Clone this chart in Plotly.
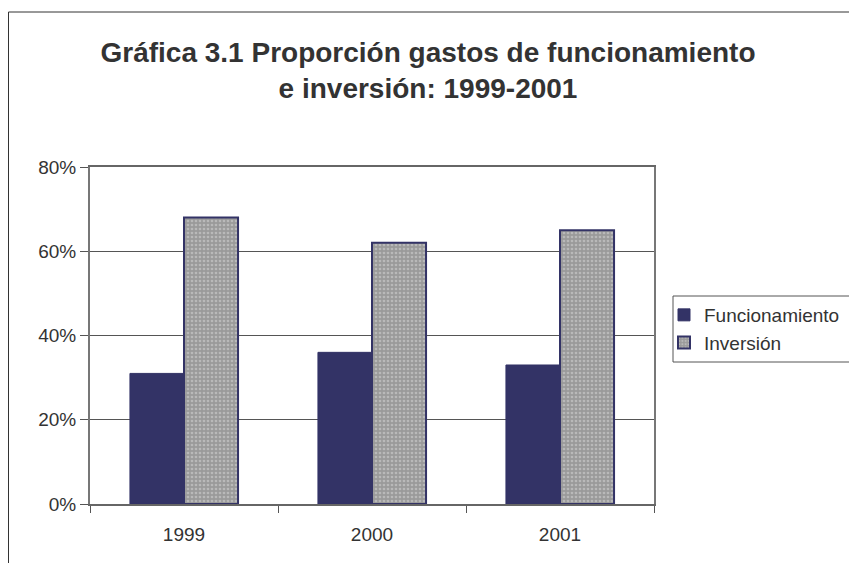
import plotly.graph_objects as go

years = ["1999", "2000", "2001"]
funcionamiento = [31, 36, 33]
inversion = [68, 62, 65]
y_ticks = [0, 20, 40, 60, 80]
y_tick_labels = ["0%", "20%", "40%", "60%", "80%"]

OFF = 8  # page body margin
W, H = 857, 563
# desired page pixel positions of plot area
PL, PR, PT, PB = 90, 654, 167, 504
L, T = PL - OFF, PT - OFF
R, B = W - (PR - OFF), H - (PB - OFF)
pw, ph = PR - PL, PB - PT

def px_x(p):
    return (p - PL) / pw

def px_y(p):
    return (PB - p) / ph

fig = go.Figure()
fig.add_trace(go.Bar(
    x=years, y=funcionamiento, name="Funcionamiento",
    marker=dict(color="#333366", line=dict(color="#333366", width=1)),
))
fig.add_trace(go.Bar(
    x=years, y=inversion, name="Inversión",
    marker=dict(color="#a3a3a3", line=dict(color="#333366", width=2),
                pattern=dict(shape=".", fgcolor="#d8d8d8", bgcolor="#9a9a9a", size=4, solidity=0.35)),
))

fig.update_layout(
    width=W, height=H,
    margin=dict(l=L, r=R, t=T, b=B),
    paper_bgcolor="white", plot_bgcolor="white",
    barmode="group", bargap=0.425, bargroupgap=0,
    font=dict(family="Arial, Liberation Sans, sans-serif", size=19, color="#333333"),
    title=dict(text="<b>Gráfica 3.1 Proporción gastos de funcionamiento<br>e inversión: 1999-2001</b>",
               x=px_x(428), xref="paper", xanchor="center",
               y=1 - (62 - OFF) / H, yanchor="middle",
               font=dict(size=28, color="#333333")),
    legend=dict(x=px_x(664), y=px_y(329), xanchor="left", yanchor="middle",
                borderwidth=0, bgcolor="rgba(0,0,0,0)",
                font=dict(size=19, color="#333333"), tracegroupgap=0, itemwidth=30),
    showlegend=True,
)
fig.update_xaxes(showline=True, linecolor="#666666", linewidth=2, mirror=True,
                 ticks="outside", tickson="boundaries", ticklen=7, tickcolor="#555555",
                 showgrid=False, tickfont=dict(size=19), ticklabelstandoff=12)
fig.update_yaxes(range=[0, 80], tickvals=y_ticks, ticktext=y_tick_labels,
                 showline=True, linecolor="#777777", linewidth=2, mirror=True,
                 ticks="outside", ticklen=8, tickcolor="#555555",
                 showgrid=True, gridcolor="#555555", gridwidth=1, zeroline=False,
                 tickfont=dict(size=19))

# outer chart border (extends past right and bottom edges)
fig.add_shape(type="rect", xref="paper", yref="paper",
              x0=px_x(OFF + 0.5), x1=px_x(900), y0=px_y(620), y1=px_y(12),
              line=dict(color="#333333", width=1), layer="below")
# legend box
fig.add_shape(type="rect", xref="paper", yref="paper",
              x0=px_x(673), x1=px_x(900), y0=px_y(362), y1=px_y(296),
              line=dict(color="#555555", width=1), fillcolor="white", layer="below")

fig.write_html("out.html")
